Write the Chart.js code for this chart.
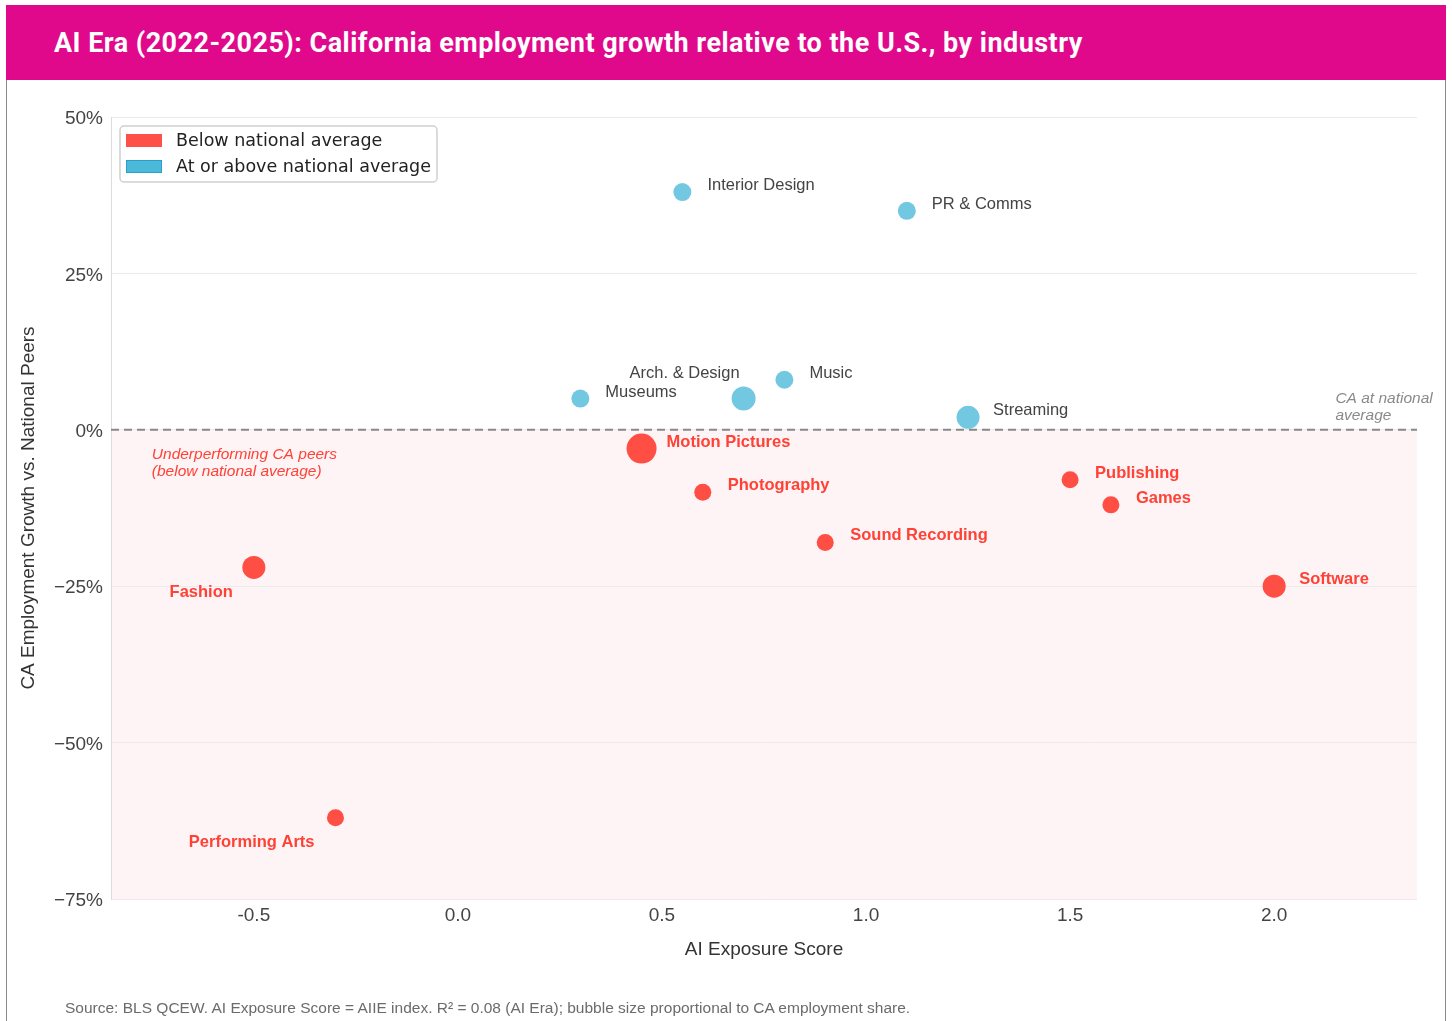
<!DOCTYPE html>
<html>
<head>
<meta charset="utf-8">
<title>AI Era: California employment growth by industry</title>
<script src="https://cdn.jsdelivr.net/npm/chart.js@4.4.1/dist/chart.umd.min.js"></script>
<style>
  html, body { margin: 0; padding: 0; background: #fff; }
  body { width: 1452px; height: 1021px; position: relative; overflow: hidden; font-family: "Liberation Sans", Arial, sans-serif; }
  #card { position: absolute; left: 6px; top: 5px; width: 1438px; height: 1040px; border-left: 1px solid #8a8a8a; border-right: 1px solid #8a8a8a; }
  #header { position: absolute; left: -1px; top: 0; width: 1440px; height: 75px; background: #e0098c; }
  #header h1 { margin: 0; position: absolute; left: 48px; top: 22px; font: 700 27px Roboto, sans-serif; color: #fff; letter-spacing: 0.46px; }
  #chart-wrap { position: absolute; left: 0; top: 75px; width: 1438px; height: 941px; }
  #footer { position: absolute; left: 58px; top: 994px; font-size: 15.5px; color: #6b6b6b; white-space: nowrap; }
</style>
</head>
<body>
<div id="card">
  <div id="header"><h1>AI Era (2022-2025): California employment growth relative to the U.S., by industry</h1></div>
  <div id="chart-wrap"><canvas id="bubbles" width="1438" height="941"></canvas></div>
  <div id="footer">Source: BLS QCEW. AI Exposure Score = AIIE index. R² = 0.08 (AI Era); bubble size proportional to CA employment share.</div>
</div>
<script>
// industry data
const industries = ['Interior Design', 'PR & Comms', 'Museums', 'Arch. & Design', 'Music', 'Streaming',
    'Motion Pictures', 'Photography', 'Sound Recording', 'Publishing', 'Games', 'Software', 'Fashion', 'Performing Arts'];
const aiExposure = [0.55, 1.10, 0.30, 0.70, 0.80, 1.25, 0.45, 0.60, 0.90, 1.50, 1.60, 2.00, -0.50, -0.30];
const growthVsPeers = [38, 35, 5, 5, 8, 2, -3, -10, -18, -8, -12, -25, -22, -62];
const bubbleRadius = [9, 9, 9, 12, 9, 11.5, 15, 8.5, 8.5, 8.5, 8.5, 11.5, 11.5, 8.5];
const seriesNames = ['Below national average', 'At or above national average'];
const xTicks = [-0.5, 0.0, 0.5, 1.0, 1.5, 2.0];
const yTicks = [-75, -50, -25, 0, 25, 50];

const RED = 'rgba(255, 65, 54, 0.93)';
const BLUE = 'rgba(74, 184, 216, 0.78)';
const FONT = '"Liberation Sans", Arial, sans-serif';

function pointsWhere(test) {
    var pts = [];
    industries.forEach(function (name, i) {
        if (test(growthVsPeers[i])) {
            pts.push({ x: aiExposure[i], y: growthVsPeers[i], r: bubbleRadius[i], name: name });
        }
    });
    return pts;
}

// where a label sits relative to its bubble (default: right of it)
const labelPlacement = {
    'Arch. & Design': { dx: -4, dy: -25, align: 'right' },
    'Fashion': { dx: -21, dy: 25, align: 'right' },
    'Performing Arts': { dx: -21, dy: 25, align: 'right' }
};

// pink band below zero + dashed national-average line
const zonePlugin = {
    id: 'zone',
    beforeDraw(chart) {
        const { ctx, chartArea: a, scales: { y } } = chart;
        const y0 = y.getPixelForValue(0);
        ctx.save();
        ctx.fillStyle = '#fef4f5';
        ctx.fillRect(a.left, y0, a.right - a.left, a.bottom - y0);
        ctx.restore();
    },
    beforeDatasetsDraw(chart) {
        const { ctx, chartArea: a, scales: { x, y } } = chart;
        const y0 = y.getPixelForValue(0);
        ctx.save();
        ctx.strokeStyle = '#888';
        ctx.lineWidth = 2;
        ctx.setLineDash([8, 5]);
        ctx.beginPath();
        ctx.moveTo(a.left, y0);
        ctx.lineTo(a.right, y0);
        ctx.stroke();

        ctx.setLineDash([]);
        ctx.font = 'italic 15.5px ' + FONT;
        ctx.textBaseline = 'middle';
        ctx.textAlign = 'left';
        ctx.fillStyle = '#ff4136';
        var ux = x.getPixelForValue(-0.75);
        ctx.fillText('Underperforming CA peers', ux, y0 + 25);
        ctx.fillText('(below national average)', ux, y0 + 42);
        ctx.fillStyle = '#8a8a8a';
        var nx = x.getPixelForValue(2.15);
        ctx.fillText('CA at national', nx, y0 - 31);
        ctx.fillText('average', nx, y0 - 14);
        ctx.restore();
    }
};

const labelPlugin = {
    id: 'pointLabels',
    afterDatasetsDraw(chart) {
        const ctx = chart.ctx;
        ctx.save();
        ctx.textBaseline = 'middle';
        chart.data.datasets.forEach(function (ds, di) {
            const meta = chart.getDatasetMeta(di);
            ds.data.forEach(function (pt, i) {
                const el = meta.data[i];
                const p = labelPlacement[pt.name] || { dx: 25, dy: -6.5, align: 'left' };
                ctx.font = (ds.labelBold ? 'bold ' : '') + '16.5px ' + FONT;
                ctx.fillStyle = ds.labelColor;
                ctx.textAlign = p.align;
                ctx.fillText(pt.name, el.x + p.dx, el.y + p.dy);
            });
        });
        ctx.restore();
    }
};

// legend box in the top-left corner of the plot
const legendPlugin = {
    id: 'boxLegend',
    afterDraw(chart) {
        const { ctx, chartArea: a } = chart;
        const bx = a.left + 9, by = a.top + 9, bw = 317, bh = 56;
        ctx.save();
        ctx.fillStyle = 'rgba(255,255,255,0.9)';
        ctx.strokeStyle = '#d0d0d0';
        ctx.lineWidth = 1.5;
        ctx.beginPath();
        ctx.roundRect(bx, by, bw, bh, 4);
        ctx.fill();
        ctx.stroke();
        ctx.font = '17.5px "DejaVu Sans", sans-serif';
        ctx.textBaseline = 'middle';
        ctx.textAlign = 'left';
        chart.data.datasets.forEach(function (ds, i) {
            const rowY = by + 14 + i * 26;
            ctx.fillStyle = ds.swatch;
            ctx.fillRect(bx + 6, rowY - 6, 36, 13);
            if (ds.swatchEdge) {
                ctx.strokeStyle = ds.swatchEdge;
                ctx.lineWidth = 1;
                ctx.strokeRect(bx + 6.5, rowY - 5.5, 35, 12);
            }
            ctx.fillStyle = '#222';
            ctx.fillText(ds.label, bx + 56, rowY + 1);
        });
        ctx.restore();
    }
};

const ctx = document.getElementById('bubbles').getContext('2d');
new Chart(ctx, {
    type: 'bubble',
    data: {
        datasets: [{
            label: seriesNames[0],
            data: pointsWhere(function (v) { return v < 0; }),
            backgroundColor: RED,
            borderWidth: 0,
            labelColor: '#ff4136',
            labelBold: true,
            swatch: '#ff5048'
        }, {
            label: seriesNames[1],
            data: pointsWhere(function (v) { return v >= 0; }),
            backgroundColor: BLUE,
            borderWidth: 0,
            labelColor: '#444',
            labelBold: false,
            swatch: '#4bb9d9',
            swatchEdge: '#2aa0c6'
        }]
    },
    options: {
        responsive: false,
        animation: false,
        devicePixelRatio: 1,
        layout: { padding: { left: 0, top: 37, right: 28, bottom: 32 } },
        plugins: {
            legend: { display: false },
            tooltip: { enabled: false }
        },
        scales: {
            x: {
                type: 'linear',
                min: -0.85,
                max: 2.35,
                afterBuildTicks: function (scale) { scale.ticks = xTicks.map(function (v) { return { value: v }; }); },
                afterFit: function (scale) { scale.height = 90; },
                grid: { display: false, drawTicks: false },
                border: { display: false },
                ticks: {
                    padding: 5,
                    color: '#444',
                    font: { family: FONT, size: 19 },
                    callback: function (v) { return v.toFixed(1); }
                },
                title: {
                    display: true,
                    text: 'AI Exposure Score',
                    color: '#333',
                    font: { family: FONT, size: 19 },
                    padding: { top: 28, bottom: 28 }
                }
            },
            y: {
                type: 'linear',
                min: -75,
                max: 50,
                afterBuildTicks: function (scale) { scale.ticks = yTicks.map(function (v) { return { value: v }; }); },
                afterFit: function (scale) { scale.width = 104; },
                grid: { color: '#ebebeb', lineWidth: 1, drawTicks: false },
                border: { display: true, color: '#dcdcdc' },
                ticks: {
                    padding: 8,
                    labelOffset: 2,
                    color: '#444',
                    font: { family: FONT, size: 19 },
                    callback: function (v) { return (v < 0 ? '\u2212' + Math.abs(v) : v) + '%'; }
                },
                title: {
                    display: true,
                    text: 'CA Employment Growth vs. National Peers',
                    color: '#333',
                    font: { family: FONT, size: 19 },
                    padding: { top: 10, bottom: 10 }
                }
            }
        }
    },
    plugins: [zonePlugin, labelPlugin, legendPlugin]
});
</script>
</body>
</html>
